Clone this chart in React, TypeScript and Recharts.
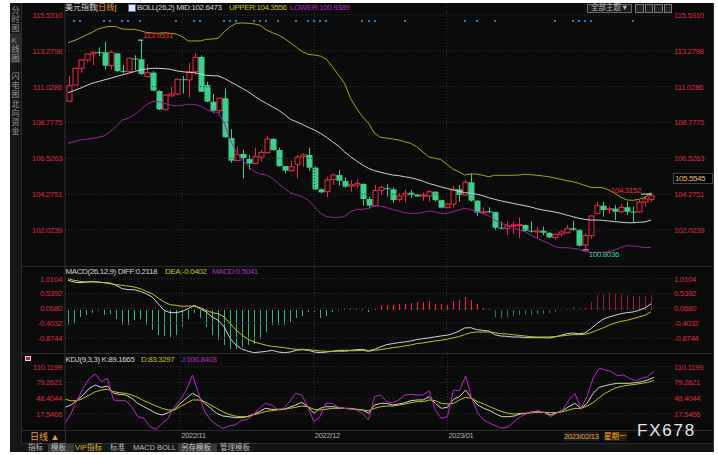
import React from "react";
import {
  ComposedChart, Bar, Line, XAxis, YAxis, ReferenceLine, ReferenceDot,
} from "recharts";

// ---- candles (daily, index 0..97) ----
const openP = [
  110.11, 111.13, 112.18, 112.70, 113.10, 113.20, 113.19, 112.35, 113.12, 112.02,
  111.97, 112.80, 112.75, 111.66, 111.91, 110.76, 109.60, 110.45, 110.57, 111.50,
  111.45, 111.97, 112.90, 111.13, 110.08, 109.52, 110.30, 107.80, 106.38, 106.80,
  106.48, 106.20, 106.60, 106.88, 107.74, 107.05, 106.04, 105.75, 106.15, 106.63,
  106.74, 105.94, 104.58, 104.43, 105.20, 105.48, 105.10, 104.78, 104.85, 104.92,
  103.97, 103.55, 104.53, 104.65, 104.58, 103.95, 104.22, 104.37, 104.26, 104.16,
  104.16, 104.43, 103.90, 103.43, 103.65, 104.58, 104.22, 105.02, 103.87, 103.12,
  103.20, 103.15, 102.17, 102.13, 102.30, 102.33, 102.34, 101.98, 101.90, 101.98,
  101.85, 101.56, 101.76, 101.85, 102.13, 102.03, 101.08, 101.67, 103.07, 103.55,
  103.30, 103.37, 103.17, 103.45, 103.18, 103.17, 103.78, 103.95,
];
const highP = [
  111.70, 112.25, 112.75, 113.10, 113.25, 113.50, 113.86, 113.30, 113.15, 112.39,
  112.85, 113.00, 113.9531, 112.45, 112.00, 110.80, 110.55, 111.03, 111.55, 111.70,
  112.50, 113.12, 113.00, 111.34, 110.57, 110.35, 110.92, 108.37, 107.26, 107.05,
  106.74, 107.20, 107.05, 107.93, 107.80, 107.20, 106.05, 106.38, 106.74, 106.84,
  107.20, 106.00, 104.64, 105.37, 105.58, 105.79, 105.33, 105.16, 105.20, 104.95,
  104.12, 104.85, 104.79, 104.90, 104.70, 104.33, 104.53, 104.53, 104.28, 104.37,
  104.53, 104.47, 103.92, 103.70, 104.79, 104.85, 105.17, 105.58, 103.90, 103.45,
  103.45, 103.17, 102.55, 102.55, 102.55, 102.82, 102.36, 102.55, 102.23, 102.23,
  101.87, 101.80, 102.00, 102.34, 102.59, 102.07, 101.82, 102.96, 103.80, 103.80,
  103.49, 103.59, 103.66, 103.80, 103.49, 103.90, 104.12, 104.3152,
];
const lowP = [
  110.05, 111.10, 111.91, 112.60, 112.39, 112.95, 112.12, 112.10, 111.95, 111.87,
  111.90, 112.08, 111.76, 111.62, 110.75, 109.55, 109.52, 110.40, 110.50, 110.60,
  110.36, 111.76, 110.70, 110.05, 109.35, 109.35, 107.83, 106.25, 106.35, 105.27,
  105.83, 106.17, 106.30, 106.84, 107.00, 106.00, 105.58, 105.69, 105.27, 106.00,
  105.75, 104.54, 104.33, 104.08, 104.85, 104.81, 104.68, 104.43, 104.64, 103.55,
  103.36, 103.49, 104.22, 104.12, 103.74, 103.80, 103.76, 104.05, 104.12, 103.85,
  103.80, 103.80, 103.38, 103.40, 103.43, 103.80, 104.18, 103.80, 102.90, 103.03,
  103.07, 102.03, 102.07, 101.71, 101.80, 101.50, 101.92, 101.85, 101.50, 101.70,
  101.50, 101.40, 101.60, 101.82, 101.98, 100.98, 100.8036, 101.50, 103.00, 102.86,
  103.07, 102.65, 103.07, 102.96, 102.48, 103.10, 103.50, 103.80,
];
const closeP = [
  111.09, 112.18, 112.70, 113.08, 113.19, 113.15, 112.35, 113.19, 112.01, 111.98,
  112.81, 112.75, 111.83, 111.91, 110.78, 109.60, 110.50, 110.57, 111.49, 111.46,
  111.97, 112.87, 110.71, 110.09, 109.52, 110.30, 107.85, 106.38, 106.78, 106.53,
  106.20, 106.63, 106.90, 107.74, 107.05, 106.04, 105.75, 106.00, 106.60, 106.74,
  105.94, 104.58, 104.39, 105.16, 105.48, 105.12, 104.75, 104.87, 104.95, 103.97,
  103.55, 104.50, 104.70, 104.60, 103.90, 104.16, 104.33, 104.22, 104.13, 104.22,
  104.43, 103.90, 103.43, 103.65, 104.58, 104.22, 105.02, 103.87, 103.11, 103.17,
  103.18, 102.17, 102.12, 102.27, 102.34, 102.36, 101.96, 101.92, 101.98, 101.85,
  101.56, 101.75, 101.90, 102.13, 102.03, 101.04, 101.67, 102.90, 103.55, 103.28,
  103.37, 103.17, 103.45, 103.17, 103.15, 103.78, 103.97, 104.18,
];

// ---- BOLL(26,2) ----
const bollUpper = [
  113.79, 113.92, 114.07, 114.27, 114.44, 114.65, 114.76, 114.82, 114.80, 114.65,
  114.63, 114.63, 114.55, 114.44, 114.40, 114.38, 114.42, 114.38, 114.34, 114.17,
  113.90, 113.90, 113.90, 114.00, 114.02, 114.07, 114.48, 114.80, 115.01, 115.03,
  115.01, 114.97, 114.88, 114.59, 114.42, 114.27, 114.06, 113.79, 113.50, 113.23,
  113.06, 113.02, 112.95, 112.75, 112.28, 111.76, 111.24, 110.30, 109.67, 109.14,
  108.73, 108.10, 107.85, 107.80, 107.74, 107.68, 107.57, 107.47, 107.26, 106.94,
  106.63, 106.53, 106.46, 106.17, 105.86, 105.69, 105.48, 105.54, 105.54, 105.46,
  105.37, 105.46, 105.46, 105.46, 105.46, 105.48, 105.52, 105.50, 105.46, 105.42,
  105.37, 105.29, 105.21, 105.12, 105.06, 104.95, 104.83, 104.70, 104.70, 104.68,
  104.54, 104.33, 104.08, 103.91, 103.89, 103.95, 104.08, 104.36,
];
const bollMid = [
  110.65, 110.78, 110.92, 111.09, 111.24, 111.34, 111.45, 111.55, 111.66, 111.76,
  111.86, 111.97, 112.08, 112.14, 112.18, 112.18, 112.16, 112.12, 112.03, 111.97,
  111.93, 111.91, 111.82, 111.74, 111.72, 111.70, 111.55, 111.34, 111.13, 110.92,
  110.71, 110.44, 110.19, 109.98, 109.77, 109.56, 109.29, 108.98, 108.83, 108.66,
  108.47, 108.31, 108.10, 107.85, 107.57, 107.30, 106.94, 106.63, 106.36, 106.11,
  105.90, 105.75, 105.65, 105.56, 105.48, 105.44, 105.37, 105.31, 105.21, 105.10,
  104.95, 104.85, 104.74, 104.64, 104.54, 104.47, 104.37, 104.33, 104.27, 104.18,
  104.05, 103.95, 103.86, 103.78, 103.70, 103.62, 103.55, 103.47, 103.36, 103.28,
  103.22, 103.15, 103.07, 102.96, 102.86, 102.76, 102.69, 102.65, 102.65, 102.63,
  102.59, 102.55, 102.51, 102.48, 102.48, 102.51, 102.53, 102.65,
];
const bollLower = [
  107.47, 107.57, 107.68, 107.72, 107.78, 107.85, 107.93, 108.20, 108.52, 108.93,
  109.04, 109.25, 109.56, 109.88, 110.09, 110.09, 109.98, 109.88, 109.81, 109.86,
  109.92, 109.92, 109.81, 109.60, 109.46, 109.40, 108.73, 107.68, 106.94, 106.42,
  106.00, 105.69, 105.54, 105.48, 105.27, 104.95, 104.64, 104.37, 104.22, 104.12,
  103.91, 103.49, 103.07, 102.86, 102.82, 102.82, 102.86, 103.17, 103.32, 103.32,
  103.38, 103.55, 103.53, 103.43, 103.32, 103.22, 103.11, 103.07, 103.07, 103.13,
  103.22, 103.17, 103.07, 103.07, 103.17, 103.28, 103.38, 103.32, 103.17, 103.07,
  102.92, 102.65, 102.44, 102.34, 102.19, 102.02, 101.92, 101.71, 101.50, 101.35,
  101.18, 100.98, 100.91, 100.91, 100.87, 100.81, 100.66, 100.62, 100.62, 100.62,
  100.66, 100.77, 100.93, 101.04, 101.02, 100.98, 100.91, 100.94,
];

// ---- MACD(26,12,9) ----
const diff = [
  0.96, 0.905, 0.884, 0.905, 0.926, 0.905, 0.884, 0.874, 0.80, 0.694,
  0.662, 0.662, 0.609, 0.535, 0.429, 0.217, 0.005, -0.069, -0.069, -0.027,
  0.058, 0.164, 0.058, -0.048, -0.207, -0.313, -0.525, -0.896, -1.107, -1.234,
  -1.298, -1.34, -1.319, -1.298, -1.266, -1.319, -1.34, -1.319, -1.266, -1.245,
  -1.266, -1.319, -1.34, -1.319, -1.298, -1.266, -1.266, -1.266, -1.245, -1.234,
  -1.277, -1.234, -1.16, -1.086, -1.054, -1.022, -1.001, -0.97, -0.927, -0.896,
  -0.874, -0.842, -0.811, -0.79, -0.737, -0.662, -0.556, -0.546, -0.609, -0.63,
  -0.652, -0.768, -0.811, -0.821, -0.842, -0.842, -0.864, -0.864, -0.864, -0.864,
  -0.874, -0.842, -0.79, -0.737, -0.716, -0.737, -0.716, -0.578, -0.419, -0.281,
  -0.207, -0.154, -0.101, -0.069, -0.048, 0.005, 0.079, 0.212,
];
const dea = [
  1.01, 0.958, 0.926, 0.905, 0.905, 0.905, 0.884, 0.852, 0.821, 0.80,
  0.778, 0.747, 0.694, 0.609, 0.535, 0.397, 0.27, 0.185, 0.164, 0.132,
  0.143, 0.132, 0.09, 0.005, -0.069, -0.101, -0.207, -0.419, -0.631, -0.79,
  -0.917, -1.001, -1.054, -1.107, -1.139, -1.16, -1.181, -1.213, -1.234, -1.234,
  -1.245, -1.266, -1.287, -1.298, -1.298, -1.298, -1.298, -1.277, -1.277, -1.266,
  -1.298, -1.266, -1.245, -1.213, -1.181, -1.16, -1.128, -1.097, -1.054, -1.033,
  -1.001, -0.97, -0.948, -0.917, -0.874, -0.832, -0.768, -0.705, -0.684, -0.684,
  -0.684, -0.705, -0.737, -0.747, -0.768, -0.79, -0.811, -0.832, -0.842, -0.842,
  -0.842, -0.832, -0.811, -0.79, -0.768, -0.768, -0.758, -0.705, -0.63, -0.556,
  -0.472, -0.398, -0.345, -0.313, -0.26, -0.207, -0.154, -0.040,
];
const macdHist = [
  -0.45, -0.397, -0.207, -0.133, -0.069, 0.01, -0.133, -0.101, -0.26, -0.45,
  -0.472, -0.313, -0.281, -0.472, -0.631, -0.768, -0.811, -0.842, -0.768, -0.525,
  -0.26, -0.069, -0.239, -0.525, -0.768, -0.948, -1.086, -1.213, -1.234, -1.16,
  -1.107, -1.054, -0.895, -0.684, -0.472, -0.472, -0.45, -0.366, -0.239, -0.175,
  -0.048, -0.048, -0.239, -0.186, -0.048, -0.01, 0.058, 0.058, 0.079, 0.058,
  -0.048, 0.058, 0.164, 0.185, 0.185, 0.196, 0.217, 0.249, 0.27, 0.27,
  0.291, 0.196, 0.217, 0.164, 0.291, 0.323, 0.429, 0.323, 0.196, 0.09,
  0.058, -0.207, -0.239, -0.207, -0.186, -0.154, -0.154, -0.133, -0.101, -0.101,
  -0.069, -0.048, 0.005, 0.058, 0.111, 0.058, 0.079, 0.27, 0.482, 0.535,
  0.566, 0.535, 0.513, 0.503, 0.46, 0.46, 0.46, 0.504,
];

// ---- KDJ(9,3,3) ----
const kLine = [
  30.6, 35.2, 45.0, 54.7, 67.8, 74.3, 69.7, 72.3, 58.0, 56.0,
  54.7, 48.2, 38.4, 31.9, 25.4, 18.9, 15.6, 20.2, 26.7, 38.4,
  48.2, 58.0, 51.5, 38.4, 28.6, 18.9, 13.6, 12.3, 10.4, 10.4,
  12.3, 16.9, 22.1, 28.6, 26.7, 26.7, 26.7, 30.6, 35.2, 40.4,
  31.9, 18.9, 28.6, 31.9, 31.9, 30.6, 28.6, 28.6, 26.7, 25.4,
  18.9, 35.2, 38.4, 38.4, 35.2, 37.1, 39.7, 43.6, 45.0, 45.0,
  51.5, 38.4, 28.6, 30.6, 46.3, 51.5, 64.5, 48.2, 35.2, 28.6,
  24.1, 17.6, 12.3, 12.3, 13.6, 17.6, 18.9, 22.1, 22.1, 20.2,
  15.6, 20.2, 24.1, 31.9, 38.4, 28.6, 38.4, 58.0, 69.7, 73.0,
  75.6, 77.6, 77.6, 77.6, 78.9, 80.8, 84.1, 89.17,
];
const dLine = [
  46.3, 43.6, 43.6, 48.2, 54.7, 61.3, 64.5, 65.8, 61.3, 59.3,
  58.0, 54.7, 50.2, 43.6, 38.4, 33.2, 28.6, 25.4, 25.4, 31.9,
  38.4, 45.0, 45.0, 41.7, 35.2, 28.6, 22.1, 16.9, 13.6, 12.3,
  12.3, 15.6, 18.9, 22.1, 24.1, 25.4, 26.7, 28.6, 30.6, 33.2,
  31.9, 26.7, 25.4, 26.7, 28.6, 28.6, 28.6, 27.3, 26.7, 25.4,
  24.1, 28.6, 31.9, 33.2, 33.2, 35.2, 37.1, 39.7, 41.7, 41.7,
  45.0, 43.6, 38.4, 37.1, 38.4, 45.0, 50.2, 48.2, 41.7, 37.1,
  31.9, 26.7, 22.1, 18.9, 17.6, 18.9, 18.9, 20.2, 20.8, 20.8,
  20.2, 20.2, 22.1, 25.4, 28.6, 28.6, 33.2, 39.7, 49.5, 58.0,
  64.5, 69.7, 72.3, 74.3, 75.6, 77.6, 79.5, 83.33,
];
const jLine = [
  -0.7, 18.9, 45.0, 67.8, 87.4, 95.8, 80.8, 87.4, 45.0, 43.6,
  43.6, 31.9, 12.3, 9.1, -7.2, -12.5, -0.7, 9.1, 31.9, 45.0,
  64.5, 93.9, 58.0, 22.1, 5.8, -4.0, -10.5, -5.9, -4.0, 4.5,
  7.1, 15.6, 28.6, 38.4, 35.2, 26.7, 28.6, 41.7, 58.0, 54.7,
  31.9, 2.6, 12.3, 38.4, 38.4, 30.6, 28.6, 27.3, 25.4, 18.9,
  5.8, 51.5, 54.7, 41.7, 39.7, 45.0, 54.7, 56.0, 54.7, 54.7,
  63.2, 25.4, 9.1, 12.3, 64.5, 63.2, 91.9, 48.2, 18.9, 5.8,
  -0.7, -5.9, -10.5, -7.2, 2.6, 12.3, 17.6, 22.1, 24.1, 20.2,
  12.3, 18.9, 25.4, 45.0, 58.0, 28.6, 51.5, 87.4, 106.9, 103.7,
  100.4, 92.6, 93.9, 87.4, 82.8, 87.4, 90.6, 100.84,
];

// ---- axes / markers ----
const SLOTS = 101; // 98 days + empty room on the right
const monthIdx = [19, 41, 63];
const monthLabels = ["2022/11", "2022/12", "2023/01"];
const eventIdx = [1, 2, 6, 7, 9, 10, 12, 18, 21, 22, 26, 27, 28, 31, 32, 33, 35, 38, 40, 41, 42, 43,
  49, 50, 51, 56, 66, 68, 71, 81, 84, 85, 86, 87, 94];
const eventLevel = 115.15;
const priceTicks = [102.0239, 104.2751, 106.5263, 108.7775, 111.0286, 113.2798, 115.531];
const macdTicks = [-0.8744, -0.4032, 0.068, 0.5392, 1.0104];
const kdjTicks = [17.5466, 48.4044, 79.2621, 110.1199];
const hiMark = 12;
const loMark = 86;
const lastMark = 97;

const rows = Array.from({ length: SLOTS }, (_, i) =>
  i < openP.length
    ? {
        i, o: openP[i], h: highP[i], l: lowP[i], c: closeP[i],
        up: bollUpper[i], mid: bollMid[i], lo: bollLower[i],
        diff: diff[i], dea: dea[i], m: macdHist[i],
        k: kLine[i], d: dLine[i], j: jLine[i],
        e: eventIdx.includes(i) ? eventLevel : null,
      }
    : { i }
);

const FONT = "'Liberation Sans', Arial, 'Noto Sans CJK SC', sans-serif";
const AXIS_RED = "#dc2a3c";
const RED = "#ec2c44";
const GREEN = "#3ccf8e";
const GRID = "#333";
const WHITE = "#d4d4d4";
const YELLOW = "#c4c41c";
const MAGENTA = "#b42cc4";
const dimFrom = 71;

const tickStyle = { fill: AXIS_RED, fontSize: 8, fontFamily: FONT, letterSpacing: -0.4 };
const fmt = (v: number) => v.toFixed(4);

function Candle(props: any) {
  const { x, y, width, height, payload } = props;
  if (!payload || payload.o == null) return <g />;
  const { o, h, l, c } = payload;
  const top = Math.min(y, y + height);
  const hh = Math.abs(height);
  const span = h - l || 1;
  const py = (p: number) => top + ((h - p) / span) * hh;
  const cx = Math.round(x + width / 2) + 0.5;
  const bTop = py(Math.max(o, c));
  const bBot = Math.max(py(Math.min(o, c)), bTop + 1);
  const bx = cx - 2.5;
  if (c >= o) {
    return (
      <g>
        <line x1={cx} x2={cx} y1={top} y2={bTop} stroke={RED} />
        <line x1={cx} x2={cx} y1={bBot} y2={top + hh} stroke={RED} />
        <rect x={bx} y={bTop} width={5} height={bBot - bTop} fill="#0b0b0b" stroke={RED} strokeWidth={1} />
      </g>
    );
  }
  return (
    <g>
      <line x1={cx} x2={cx} y1={top} y2={top + hh} stroke={GREEN} />
      <rect x={bx - 0.5} y={bTop} width={6} height={bBot - bTop} fill={GREEN} />
    </g>
  );
}

function HistBar(props: any) {
  const { x, y, width, height, payload } = props;
  if (!payload || payload.m == null || height == null || isNaN(height)) return <g />;
  const dim = payload.i >= dimFrom;
  const col = payload.m >= 0 ? (dim ? "#9a1c30" : "#ff1e3c") : (dim ? "#237e52" : "#33b676");
  const top = Math.min(y, y + height);
  const bx = Math.floor(x + width / 2) + 0.5;
  return <line x1={bx} x2={bx} y1={top} y2={top + Math.max(Math.abs(height), 0.5)} stroke={col} strokeWidth={1} shapeRendering="crispEdges" />;
}

function MonthTick(props: any) {
  const k = monthIdx.indexOf(Number(props.payload.value));
  if (k < 0) return <g />;
  return (
    <text x={props.x + 1} y={props.y + 8} fill="#b4b4b4" fontSize={7.5} fontFamily={FONT} letterSpacing={-0.3}>
      {monthLabels[k]}
    </text>
  );
}

function T({ x, y, c = WHITE, s = 8, ls = -0.4, bg, children }: any) {
  return (
    <div style={{
      position: "absolute", left: x, top: y, color: c, fontSize: s, lineHeight: `${s + 2}px`,
      fontFamily: FONT, letterSpacing: ls, whiteSpace: "nowrap", background: bg,
    }}>{children}</div>
  );
}

function Box({ x, y, w, h, bg, b }: any) {
  return <div style={{ position: "absolute", left: x, top: y, width: w, height: h, background: bg, border: b, boxSizing: "border-box" }} />;
}

function axes(domain: number[], ticks: number[]) {
  return [
    <YAxis key="l" yAxisId="l" orientation="left" width={65} domain={domain} allowDataOverflow ticks={ticks}
      tickFormatter={fmt} tick={tickStyle} tickLine={false} tickSize={0} tickMargin={3}
      axisLine={{ stroke: "#333" }} interval={0} />,
    <YAxis key="r" yAxisId="r" orientation="right" width={46} domain={domain} allowDataOverflow ticks={ticks}
      tickFormatter={fmt} tick={tickStyle} tickLine={false} tickSize={0} tickMargin={2}
      axisLine={false} interval={0} />,
    ...ticks.map((t) => <ReferenceLine key={"h" + t} yAxisId="l" y={t} stroke={GRID} strokeDasharray="1 2" />),
    ...monthIdx.map((m) => <ReferenceLine key={"v" + m} yAxisId="l" x={m} stroke={GRID} strokeDasharray="1 2" />),
  ];
}

const line = (key: string, color: string) => (
  <Line key={key} yAxisId="l" dataKey={key} stroke={color} strokeWidth={1} dot={false} activeDot={false}
    isAnimationActive={false} type="linear" />
);

export default function App() {
  const tabs = [
    { t: "指标", x: 28 }, { t: "模板", x: 51, bg: "#3a3a3a", w: 20 }, { t: "VIP指标", x: 75, c: "#d8b530" },
    { t: "标准", x: 110 }, { t: "MACD", x: 133 }, { t: "BOLL", x: 157 },
    { t: "另存模板", x: 181, bg: "#3a3a3a", w: 33 }, { t: "管理模板", x: 220 },
  ];
  return (
    <div style={{ position: "fixed", left: 0, top: 0, width: 718, height: 455, background: "#fff", overflow: "hidden" }}>
      <Box x={10} y={3} w={704} h={449} bg="#0b0b0b" />
      {/* left sidebar */}
      <Box x={10} y={3} w={11} h={449} bg="#161616" />
      <Box x={10} y={33} w={11} h={30} bg="#2c2c2c" />
      {[["分", 6], ["时", 15], ["图", 24], ["K", 36], ["线", 45], ["图", 54], ["闪", 72], ["电", 81], ["图", 90],
        ["北", 100], ["向", 109], ["资", 118], ["金", 127]].map(([ch, y], n) => (
        <T key={n} x={11.5} y={y} s={8} c="#9a9a9a" ls={0}>{ch}</T>
      ))}

      {/* price panel */}
      <div style={{ position: "absolute", left: 0, top: 3 }}>
        <ComposedChart width={718} height={263} data={rows} margin={{ top: 0, right: 0, bottom: 0, left: 0 }}>
          <XAxis dataKey="i" type="category" hide />
          {axes([99.762, 116.285], priceTicks)}
          {line("up", "#a8a812")}
          {line("mid", "#cfcfcf")}
          {line("lo", "#a021a8")}
          <Bar yAxisId="l" dataKey={(d: any) => (d.o == null ? null : [d.l, d.h])} barSize={5}
            shape={(p: any) => <Candle {...p} />} isAnimationActive={false} />
          <Line yAxisId="l" dataKey="e" stroke="none" isAnimationActive={false} activeDot={false}
            dot={(p: any) => p.payload?.e == null || p.cy == null
              ? <g key={p.index} />
              : <rect key={p.index} x={Math.round(p.cx) - 1} y={Math.round(p.cy) - 1} width={2} height={2} fill="#1f7fd6" />} />
          <ReferenceDot yAxisId="l" x={hiMark} y={highP[hiMark]} r={0} ifOverflow="visible"
            shape={(p: any) => (
              <g>
                <line x1={p.cx - 2} x2={p.cx + 3} y1={p.cy} y2={p.cy} stroke="#ddd" />
                <text x={p.cx + 3} y={p.cy - 2} fill={RED} fontSize={8} fontFamily={FONT} letterSpacing={-0.4}>{fmt(highP[hiMark])}</text>
              </g>
            )} />
          <ReferenceDot yAxisId="l" x={loMark} y={lowP[loMark]} r={0} ifOverflow="visible"
            shape={(p: any) => (
              <g>
                <line x1={p.cx - 2} x2={p.cx + 4} y1={p.cy + 0.5} y2={p.cy + 0.5} stroke="#ddd" />
                <text x={p.cx + 4} y={p.cy + 7.5} fill={GREEN} fontSize={8} fontFamily={FONT} letterSpacing={-0.4}>{fmt(lowP[loMark])}</text>
              </g>
            )} />
          <ReferenceDot yAxisId="l" x={lastMark} y={highP[lastMark]} r={0} ifOverflow="visible"
            shape={(p: any) => (
              <g>
                <line x1={p.cx - 10} x2={p.cx + 1} y1={p.cy + 0.5} y2={p.cy + 0.5} stroke="#e8e8e8" />
                <text x={p.cx - 10} y={p.cy - 1} textAnchor="end" fill={RED} fontSize={8} fontFamily={FONT} letterSpacing={-0.4}>{fmt(highP[lastMark])}</text>
              </g>
            )} />
        </ComposedChart>
      </div>

      {/* MACD panel */}
      <div style={{ position: "absolute", left: 0, top: 267 }}>
        <ComposedChart width={718} height={86} data={rows} margin={{ top: 0, right: 0, bottom: 0, left: 0 }}>
          <XAxis dataKey="i" type="category" hide />
          {axes([-1.3512, 1.3823], macdTicks)}
          <Bar yAxisId="l" dataKey="m" barSize={1} isAnimationActive={false} shape={(p: any) => <HistBar {...p} />} />
          {line("diff", WHITE)}
          {line("dea", YELLOW)}
        </ComposedChart>
      </div>

      {/* KDJ panel + dates */}
      <div style={{ position: "absolute", left: 0, top: 353 }}>
        <ComposedChart width={718} height={90} data={rows} margin={{ top: 0, right: 0, bottom: 0, left: 0 }}>
          <XAxis dataKey="i" type="category" height={13} ticks={monthIdx} interval={0} tick={(p: any) => <MonthTick {...p} />}
            tickLine={false} axisLine={false} tickSize={0} tickMargin={0} />
          {axes([-13.75, 136.93], kdjTicks)}
          {line("k", WHITE)}
          {line("d", YELLOW)}
          {line("j", MAGENTA)}
        </ComposedChart>
      </div>

      {/* separators */}
      <Box x={21} y={3} w={1} h={449} bg="#2c2c2c" />
      <Box x={713} y={3} w={1} h={449} bg="#2c2c2c" />
      <Box x={21} y={266} w={692} h={1} bg="#2c2c2c" />
      <Box x={21} y={352.5} w={692} h={1} bg="#2c2c2c" />
      <Box x={21} y={430} w={692} h={1} bg="#2c2c2c" />
      <Box x={21} y={443} w={692} h={1} bg="#2c2c2c" />
      <Box x={64.5} y={430} w={1} h={13} bg="#333" />

      {/* price header */}
      <T x={65} y={3} ls={0}>美元指数</T>
      <T x={96} y={3} c="#e0a030" ls={0}>[日线]</T>
      <Box x={128} y={4} w={8} h={8} bg="#e8e8f0" b="1px solid #5060c0" />
      <T x={137} y={3}>BOLL(26,2) MID:102.6473</T>
      <T x={229} y={3} c={YELLOW}>UPPER:104.3556</T>
      <T x={290} y={3} c={MAGENTA}>LOWER:100.9389</T>
      <Box x={587} y={3.5} w={45} h={9.5} bg="#1a1a1a" b="1px solid #6a6a6a" />
      <T x={591} y={3.2} s={7.5} c="#b8b8b8" ls={0}>全部主题▼</T>
      {[635, 644.5, 654, 663.5].map((bx) => <Box key={bx} x={bx} y={4} w={8.5} h={8.5} bg="#222" b="1px solid #7a7a7a" />)}
      <Box x={673} y={173} w={40} h={11} bg="#000" b="1px solid #444" />
      <T x={675} y={173.5} c="#e6c27a">105.5545</T>

      {/* MACD header */}
      <T x={65.5} y={266.5}>MACD(26,12,9) DIFF:0.2118</T>
      <T x={165} y={266.5} c={YELLOW}>DEA:-0.0402</T>
      <T x={212} y={266.5} c={MAGENTA}>MACD:0.5041</T>

      {/* KDJ header */}
      <Box x={25} y={356} w={6} h={5} bg="#c02030" b="1px solid #f0d0d0" />
      <T x={65.5} y={355}>KDJ(9,3,3) K:89.1665</T>
      <T x={141} y={355} c={YELLOW}>D:83.3297</T>
      <T x={181} y={355} c={MAGENTA}>J:100.8403</T>

      {/* date bar */}
      <T x={30} y={431.5} s={9} c="#e8a030" ls={0}>日线 ▲</T>
      <T x={564} y={431.5} s={7.5} c="#e0a040" ls={-0.3} bg="#1c1c1c">2023/02/13</T>
      <T x={604} y={431.5} s={7.5} c="#f0b030" ls={0} bg="#2a1f05">星期一</T>
      <T x={637} y={421} s={17} c="#e6e6e6" ls={1.8}>FX678</T>

      {/* bottom tabs */}
      <Box x={21} y={443.5} w={692} h={8.5} bg="#151515" />
      {tabs.map((tb) => (
        <React.Fragment key={tb.t}>
          {tb.bg && <Box x={tb.x - 3} y={443.5} w={tb.w + 6} h={8.5} bg={tb.bg} />}
          <T x={tb.x} y={443} s={7.5} c={tb.c ?? "#bdbdbd"} ls={0}>{tb.t}</T>
        </React.Fragment>
      ))}
    </div>
  );
}
